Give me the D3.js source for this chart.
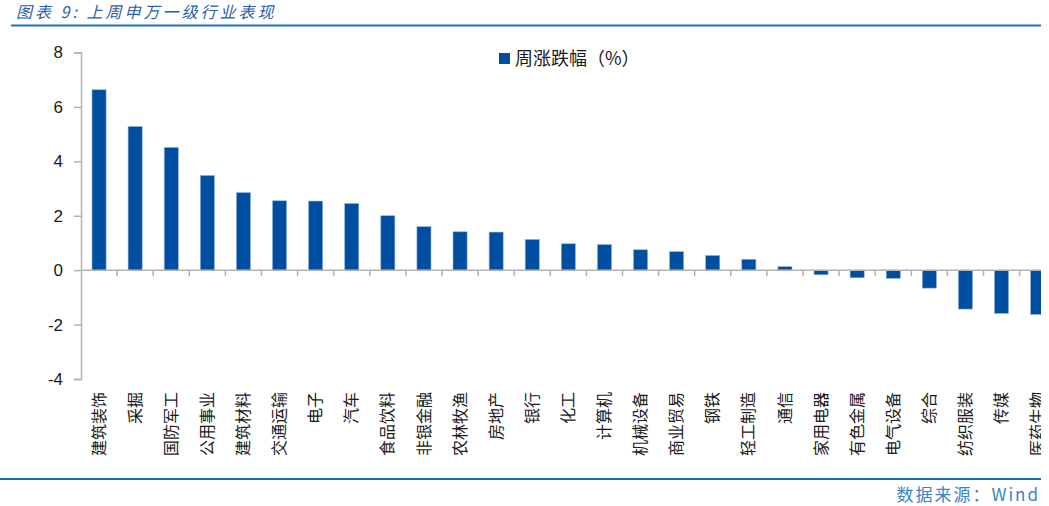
<!DOCTYPE html>
<html>
<head>
<meta charset="utf-8">
<script src="https://cdn.jsdelivr.net/npm/d3@7"></script>
<style>
  body { margin: 0; background: #fff; }
  svg { display: block; }
</style>
</head>
<body>
<div id="chart"></div>
<script>
'use strict'

const categories = ['建筑装饰', '采掘', '国防军工', '公用事业', '建筑材料', '交通运输', '电子', '汽车',
  '食品饮料', '非银金融', '农林牧渔', '房地产', '银行', '化工', '计算机', '机械设备', '商业贸易',
  '钢铁', '轻工制造', '通信', '家用电器', '有色金属', '电气设备', '综合', '纺织服装', '传媒', '医药生物']
const weeklyChange = [6.63, 5.28, 4.51, 3.48, 2.85, 2.55, 2.54, 2.45, 2.0, 1.6, 1.41, 1.4, 1.13,
  0.97, 0.94, 0.75, 0.68, 0.54, 0.4, 0.13, -0.17, -0.28, -0.3, -0.66, -1.43, -1.59, -1.63]
const yTicks = [-4, -2, 0, 2, 4, 6, 8]
const seriesName = '周涨跌幅（%）'
const title = '图表 9: 上周申万一级行业表现'
const source = '数据来源：Wind'

const width = 1049
const height = 506
const axisGrey = '#b3b3b3'
const barBlue = '#004ea2'
const cjk = '"Noto Sans CJK SC", "Noto Sans", sans-serif'

const svg = d3.select('#chart')
  .append('svg')
    .attr('width', width)
    .attr('height', height)

svg.append('defs')
  .append('clipPath')
    .attr('id', 'plot-clip')
  .append('rect')
    .attr('x', 0)
    .attr('y', 0)
    .attr('width', 1041)
    .attr('height', 477)

// header
svg.append('text')
  .attr('x', 16)
  .attr('y', 18)
  .attr('fill', '#2b5ea8')
  .style('font-family', cjk)
  .style('font-style', 'italic')
  .style('font-size', '16px')
  .style('letter-spacing', '3px')
  .style('white-space', 'pre')
  .text(title)

svg.append('line')
  .attr('x1', 11).attr('x2', 1041)
  .attr('y1', 25.5).attr('y2', 25.5)
  .attr('stroke', '#1f73b7')
  .attr('stroke-width', 2)

const step = 36.1
const x = d3.scaleBand()
  .domain(categories)
  .range([81, 81 + step * categories.length])
  .paddingInner(0.61)
  .paddingOuter(0.305)

const y = d3.scaleLinear()
  .domain([-4, 8])
  .range([379, 52.5])

const plot = svg.append('g').attr('clip-path', 'url(#plot-clip)')

// y axis
const yAxis = d3.axisLeft(y)
  .tickValues(yTicks)
  .tickSize(7)
  .tickPadding(11)
  .tickFormat(d => String(d))

const yAxisGroup = svg.append('g')
  .attr('transform', 'translate(81,0)')
  .call(yAxis)
yAxisGroup.selectAll('.domain').attr('stroke', axisGrey).attr('stroke-width', 1.5)
yAxisGroup.selectAll('line').attr('stroke', axisGrey).attr('stroke-width', 1.5)
yAxisGroup.selectAll('text')
  .attr('fill', '#1a1a1a')
  .style('font-family', 'Liberation Sans, Arial, sans-serif')
  .style('font-size', '17px')

// bars
plot.selectAll('rect.bar')
  .data(categories)
  .join('rect')
    .attr('class', 'bar')
    .attr('x', d => x(d))
    .attr('width', x.bandwidth())
    .attr('y', (d, i) => y(Math.max(0, weeklyChange[i])))
    .attr('height', (d, i) => Math.abs(y(weeklyChange[i]) - y(0)))
    .attr('fill', barBlue)
    .attr('stroke', '#8fb1da')
    .attr('stroke-width', 0.6)

// x axis line with ticks between categories
plot.append('line')
  .attr('x1', 81).attr('x2', 81 + step * categories.length)
  .attr('y1', y(0)).attr('y2', y(0))
  .attr('stroke', axisGrey)
  .attr('stroke-width', 1.5)

plot.selectAll('line.xtick')
  .data(categories)
  .join('line')
    .attr('class', 'xtick')
    .attr('x1', d => x(d) + x.bandwidth() + x.step() * x.paddingInner() / 2)
    .attr('x2', d => x(d) + x.bandwidth() + x.step() * x.paddingInner() / 2)
    .attr('y1', y(0))
    .attr('y2', y(0) + 6)
    .attr('stroke', axisGrey)
    .attr('stroke-width', 1.5)

// category labels, rotated
plot.selectAll('text.cat')
  .data(categories)
  .join('text')
    .attr('class', 'cat')
    .attr('transform', d => `translate(${x(d) + x.bandwidth() / 2},392) rotate(-90)`)
    .attr('text-anchor', 'end')
    .attr('dy', '0.35em')
    .attr('fill', '#1a1a1a')
    .style('font-family', cjk)
    .style('font-size', '16px')
    .text(d => d)

// legend
const legend = svg.append('g').attr('transform', 'translate(499,53)')
legend.append('rect')
  .attr('width', 11)
  .attr('height', 11)
  .attr('fill', barBlue)
legend.append('text')
  .attr('x', 16)
  .attr('y', 6)
  .attr('dy', '0.35em')
  .attr('fill', '#1a1a1a')
  .style('font-family', cjk)
  .style('font-size', '18px')
  .text(seriesName)

// footer
svg.append('line')
  .attr('x1', 0).attr('x2', 1041)
  .attr('y1', 479).attr('y2', 479)
  .attr('stroke', '#1570b8')
  .attr('stroke-width', 2)

svg.append('text')
  .attr('x', 1040)
  .attr('y', 501)
  .attr('text-anchor', 'end')
  .attr('fill', '#3a84c4')
  .style('font-family', '"Noto Sans CJK SC", "DejaVu Sans Mono", monospace')
  .style('font-size', '17px')
  .style('letter-spacing', '2px')
  .text(source)
</script>
</body>
</html>
